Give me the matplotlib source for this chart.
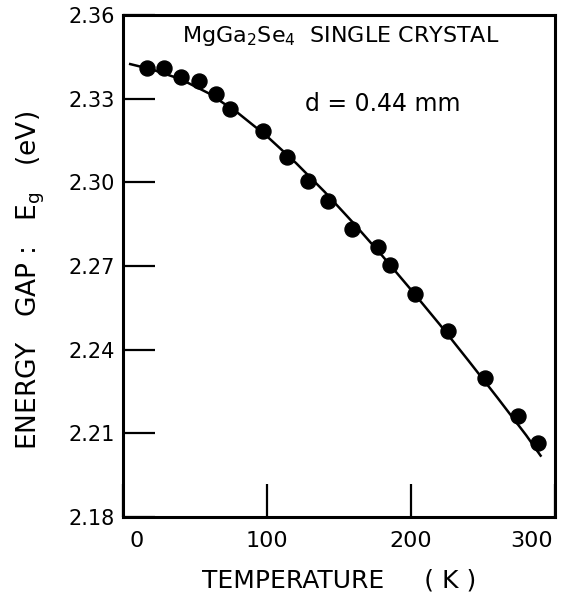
import matplotlib
matplotlib.use("Agg")
import matplotlib.pyplot as plt
import matplotlib.transforms as mtransforms

# Measured data points (temperature K, energy gap eV)
temp_pts = [16.4, 28.7, 40.0, 52.8, 64.6, 74.3, 97.0, 113.7, 128.7, 142.6,
            158.8, 177.3, 185.4, 202.8, 225.9, 251.4, 274.5, 288.4]
eg_pts = [2.3409, 2.3409, 2.3377, 2.3363, 2.3317, 2.3264, 2.3185, 2.3092, 2.3006, 2.2934,
          2.2833, 2.2769, 2.2703, 2.2600, 2.2467, 2.2299, 2.2163, 2.2064]

# Fitted curve
temp_fit = [5, 20, 40, 60, 80, 100, 120, 140, 160, 180, 200, 220, 240, 260, 280, 290]
eg_fit = [2.3424, 2.3405, 2.3370, 2.3318, 2.3248, 2.3165, 2.3070, 2.2966, 2.2854, 2.2737,
          2.2615, 2.2490, 2.2360, 2.2228, 2.2093, 2.2020]

xticks = [0, 100, 200, 300]
xtick_labels = ["0", "100", "200", "300"]
yticks = [2.18, 2.21, 2.24, 2.27, 2.30, 2.33, 2.36]
ytick_labels = ["2.18", "2.21", "2.24", "2.27", "2.30", "2.33", "2.36"]

plt.rcParams['font.family'] = ['DejaVu Sans']
plt.rcParams['mathtext.fontset'] = 'dejavusans'

W, H = 565, 599
fig = plt.figure(figsize=(W / 100, H / 100), dpi=100)
ax = fig.add_axes([123 / W, 1 - 517 / H, (555 - 123) / W, (517 - 15) / H])

ax.plot(temp_fit, eg_fit, color='black', lw=1.8, zorder=2)
ax.plot(temp_pts, eg_pts, 'o', color='black', ms=10.8, zorder=3)

ax.set_xlim(0, 300)
ax.set_ylim(2.18, 2.36)

for s in ax.spines.values():
    s.set_linewidth(2.2)

ax.set_xticks(xticks)
ax.set_xticklabels(xtick_labels)
ax.set_yticks(yticks)
ax.set_yticklabels(ytick_labels)
ax.tick_params(axis='y', direction='in', length=23, width=1.6, labelsize=15, pad=6)
ax.tick_params(axis='x', direction='in', length=24, width=1.6, labelsize=16, pad=10)

# shift the corner tick labels inward
lbls = ax.get_xticklabels()
lbls[0].set_transform(lbls[0].get_transform() + mtransforms.ScaledTranslation(14 / 100, 0, fig.dpi_scale_trans))
lbls[-1].set_transform(lbls[-1].get_transform() + mtransforms.ScaledTranslation(-23 / 100, 0, fig.dpi_scale_trans))

ax.set_xlabel("TEMPERATURE     ( K )", fontsize=18, labelpad=13)
ax.set_ylabel(r"ENERGY   GAP :   E$_\mathregular{g}$   (eV)", fontsize=19)
ax.yaxis.set_label_coords(-0.177, 0.472)

ax.text(0.505, 0.982, r"MgGa$_\mathregular{2}$Se$_\mathregular{4}$  SINGLE CRYSTAL", transform=ax.transAxes,
        fontsize=16, ha='center', va='top')
ax.text(0.602, 0.823, "d = 0.44 mm", transform=ax.transAxes, fontsize=17, ha='center', va='center')

fig.savefig("out.png", dpi=100)
